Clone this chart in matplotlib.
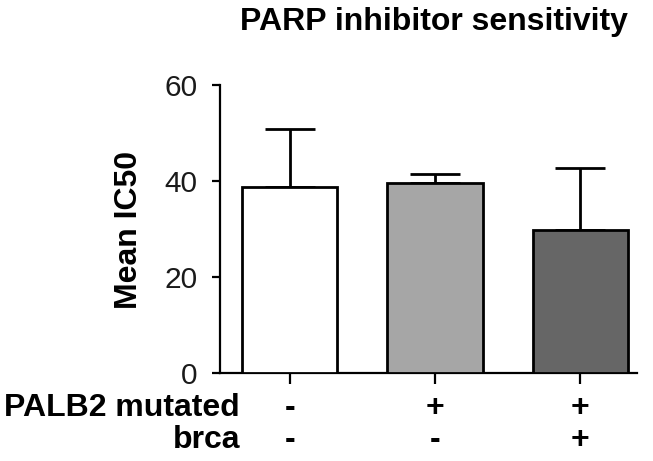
import numpy as np
import matplotlib
matplotlib.use("Agg")
import matplotlib.pyplot as plt
from matplotlib.transforms import blended_transform_factory

# values
groups = ["grp1", "grp2", "grp3"]
mean_ic50 = [38.8, 39.6, 29.8]
sd_upper = [12.0, 1.9, 12.9]
palb2_signs = ["-", "+", "+"]
brca_signs = ["-", "-", "+"]
bar_colors = ["#ffffff", "#a6a6a6", "#666666"]
yticks = [0, 20, 40, 60]

plt.rcParams["font.family"] = ["Liberation Sans", "DejaVu Sans"]

fig = plt.figure(figsize=(6.53, 4.61), dpi=100)
ax = fig.add_axes([220 / 653, 1 - 373 / 461, (637 - 220) / 653, (373 - 85) / 461])

x = np.arange(len(groups))
ax.bar(x, mean_ic50, width=0.655, color=bar_colors, edgecolor="black",
       linewidth=2, zorder=3)
ax.errorbar(x, mean_ic50, yerr=[np.zeros(len(x)), sd_upper], fmt="none",
            ecolor="black", elinewidth=2, capsize=18, capthick=2, zorder=2)

ax.set_xlim(-0.48, 2.39)
ax.set_ylim(0, 60)
ax.set_yticks(yticks)
ax.set_yticklabels([str(t) for t in yticks], fontsize=21.5, color="#1a1a1a")
ax.set_xticks(x)
ax.set_xticklabels([])
for s in ["top", "right"]:
    ax.spines[s].set_visible(False)
for s in ["left", "bottom"]:
    ax.spines[s].set_linewidth(1.6)
ax.tick_params(axis="y", length=6, width=1.6, pad=10)
ax.tick_params(axis="x", length=8, width=1.6)

# group sign rows under the axis
tr = blended_transform_factory(ax.transData, fig.transFigure)
for xi, p, b in zip(x, palb2_signs, brca_signs):
    ax.text(xi, 1 - 408 / 461, p, transform=tr, ha="center", va="center",
            fontsize=23, fontweight="bold")
    ax.text(xi, 1 - 440 / 461, b, transform=tr, ha="center", va="center",
            fontsize=23, fontweight="bold")
fig.text(240 / 653, 1 - 408 / 461, "PALB2 mutated", ha="right", va="center",
         fontsize=23, fontweight="bold")
fig.text(240 / 653, 1 - 440 / 461, "brca", ha="right", va="center",
         fontsize=23, fontweight="bold")

fig.text(129 / 653, 1 - 230 / 461, "Mean IC50", rotation=90, ha="center",
         va="center", fontsize=23, fontweight="bold")
fig.text(434 / 653, 1 - 22 / 461, "PARP inhibitor sensitivity", ha="center",
         va="center", fontsize=23, fontweight="bold")

fig.savefig("out.png", dpi=100)
